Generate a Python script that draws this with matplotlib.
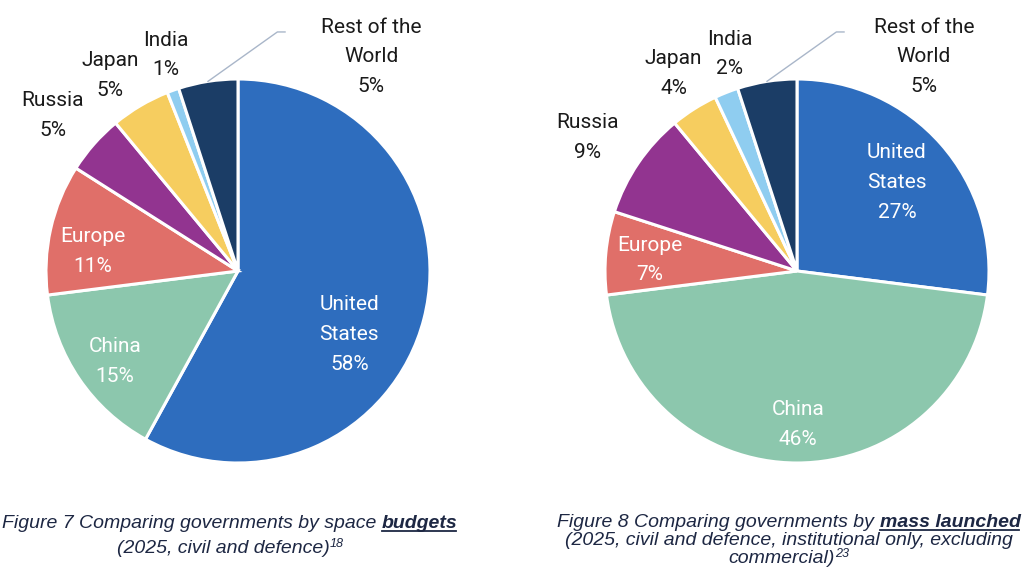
import matplotlib.pyplot as plt
from matplotlib.lines import Line2D
import numpy as np

countries = ["United\nStates", "China", "Europe", "Russia", "Japan", "India", "Rest of the\nWorld"]
budget_share = [58, 15, 11, 5, 5, 1, 5]
mass_share = [27, 46, 7, 9, 4, 2, 5]

colors = ["#2E6DBE", "#8CC7AD", "#E06F69", "#923490", "#F6CD5F", "#8FCDF0", "#1B3D66"]
label_colors = ["white", "white", "white", "#1a1a1a", "#1a1a1a", "#1a1a1a", "#1a1a1a"]

# label centres, in pie radius units
budget_label_xy = [(0.58, -0.33), (-0.64, -0.47), (-0.755, 0.10), (-0.964, 0.81),
                   (-0.667, 1.02), (-0.375, 1.125), (0.693, 1.115)]
mass_label_xy = [(0.52, 0.46), (0.005, -0.80), (-0.766, 0.057), (-1.089, 0.695),
                 (-0.643, 1.03), (-0.352, 1.13), (0.661, 1.115)]

W, H, DPI = 1024, 577, 100
fig = plt.figure(figsize=(W / DPI, H / DPI), dpi=DPI)
cap_color = "#1D2743"
label_font = "Roboto"


def draw_pie(left_px, values, label_xy):
    ax = fig.add_axes([left_px / W, 1 - 463 / H, 384 / W, 384 / H])
    wedges, _ = ax.pie(values, colors=colors, startangle=90, counterclock=False,
                       radius=1, wedgeprops=dict(edgecolor="white", linewidth=2.2))
    ax.set_xlim(-1, 1)
    ax.set_ylim(-1, 1)
    ax.set_aspect("equal")
    ax.axis("off")
    for name, v, (x, y), c in zip(countries, values, label_xy, label_colors):
        ax.text(x, y, f"{name}\n{v}%", ha="center", va="center", color=c,
                fontsize=15, family=label_font, linespacing=1.72)
    # leader line for the last wedge
    w = wedges[-1]
    a = np.deg2rad((w.theta1 + w.theta2) / 2)
    ax.plot([np.cos(a), 0.205, 0.245], [np.sin(a), 1.245, 1.245],
            color="#A9B6C9", lw=1, clip_on=False)
    return ax


draw_pie(238 - 192, budget_share, budget_label_xy)
draw_pie(797 - 192, mass_share, mass_label_xy)

renderer = fig.canvas.get_renderer()


def caption_line(cx, base_px, pieces, size=14):
    objs = []
    for txt, kind in pieces:
        kw = dict(fontsize=size, style="italic", color=cap_color,
                  family="Liberation Sans", va="baseline", ha="left")
        if kind == "b":
            kw["weight"] = "bold"
        if kind == "s":
            kw["fontsize"] = size * 0.65
        objs.append((fig.text(0, 0, txt, **kw), kind))
    sp = fig.text(0, 0, "x x", fontsize=size, style="italic", family="Liberation Sans")
    sp2 = fig.text(0, 0, "xx", fontsize=size, style="italic", family="Liberation Sans")
    space = sp.get_window_extent(renderer).width - sp2.get_window_extent(renderer).width
    sp.remove()
    sp2.remove()
    widths = []
    for o, kind in objs:
        widths.append(o.get_window_extent(renderer).width)
    gaps = [space if k == "b" else 0 for _, k in objs]
    total = sum(widths) + sum(gaps)
    x = cx - total / 2
    for (o, kind), wd, g in zip(objs, widths, gaps):
        x += g
        yb = base_px - (6 if kind == "s" else 0)
        o.set_position((x / W, 1 - yb / H))
        if kind == "b":
            yl = 1 - (base_px + 2.5) / H
            fig.add_artist(Line2D([x / W, (x + wd - 2) / W], [yl, yl], color=cap_color,
                                  lw=1.3, transform=fig.transFigure))
        x += wd


caption_line(230, 528, [("Figure 7 Comparing governments by space", "n"), ("budgets", "b")])
caption_line(230, 553, [("(2025, civil and defence)", "n"), ("18", "s")])
caption_line(789, 527, [("Figure 8 Comparing governments by", "n"), ("mass launched", "b")])
caption_line(789, 545, [("(2025, civil and defence, institutional only, excluding", "n")])
caption_line(789, 563, [("commercial)", "n"), ("23", "s")])

fig.savefig("out.png", dpi=DPI, facecolor="white")
